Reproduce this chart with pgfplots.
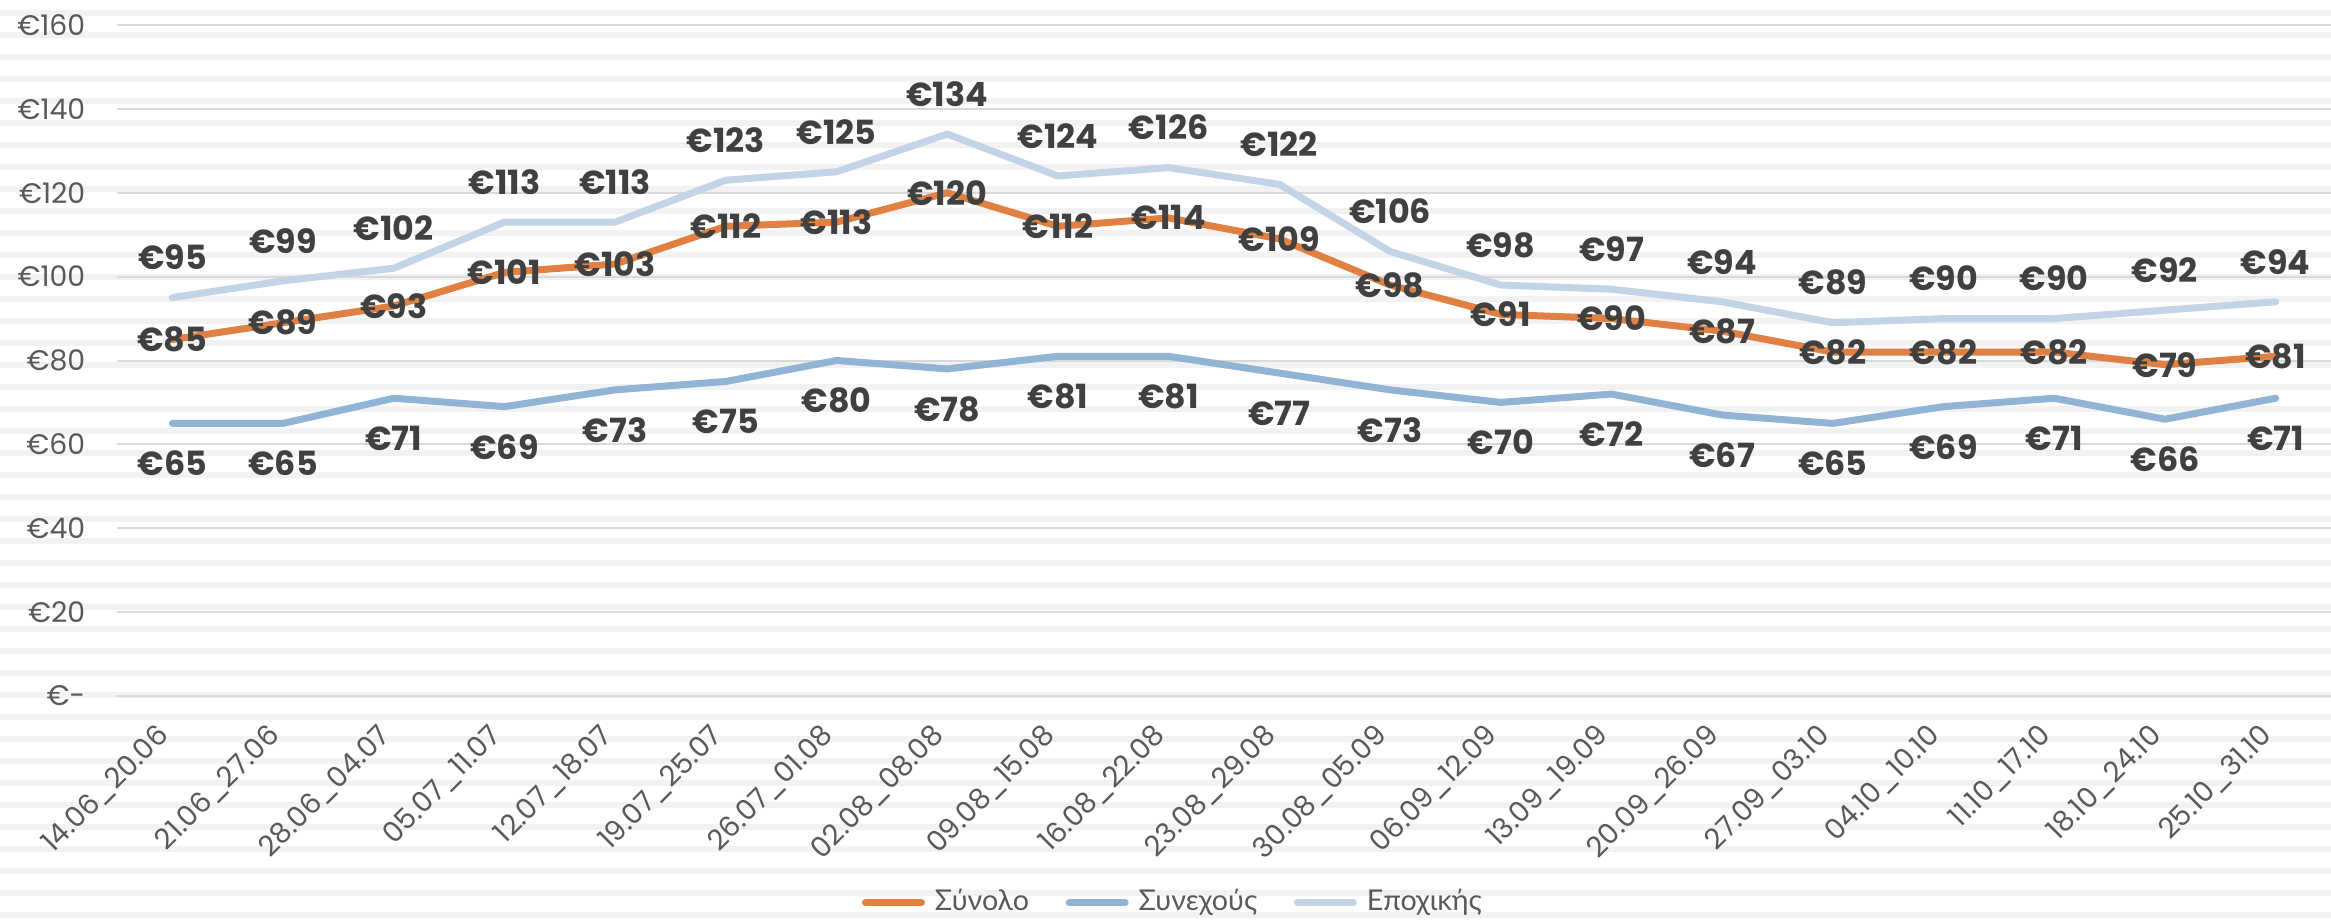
\documentclass[border=0pt]{standalone}
\usepackage{fontspec}
\setmainfont{Poppins}
\newfontfamily\legfont{Lato}
\usepackage{pgfplots}
\pgfplotsset{compat=1.18}
\definecolor{cOrange}{RGB}{224,128,66}
\definecolor{cBlue}{RGB}{145,180,212}
\definecolor{cLight}{RGB}{194,212,230}
\definecolor{stripe}{RGB}{242,242,242}
\definecolor{gridc}{RGB}{217,217,217}
\definecolor{lbl}{RGB}{64,64,64}
\definecolor{tickc}{RGB}{89,89,89}
\begin{document}
\begin{tikzpicture}[x=0.3pt,y=0.3pt]
\foreach \k in {0,...,41} { \fill[stripe] (0,{921-16-22*\k}) rectangle (2331,{921-10-22*\k}); }
\begin{axis}[
  at={(35.1pt,67.5pt)}, anchor=south west,
  scale only axis, width=664.2pt, height=201.3pt,
  xmin=-0.5, xmax=19.5, ymin=0, ymax=160,
  axis line style={draw=none}, tick style={draw=none},
  ymajorgrids, grid style={gridc, line width=0.6pt},
  ytick={0,20,...,160},
  yticklabels={€-,€20,€40,€60,€80,€100,€120,€140,€160},
  yticklabel style={font=\fontsize{8.5}{10}\selectfont, text=tickc, anchor=east, xshift=-6pt},
  xtick={0,...,19},
  xticklabels={14.06\_20.06,21.06\_27.06,28.06\_04.07,05.07\_11.07,12.07\_18.07,19.07\_25.07,26.07\_01.08,02.08\_08.08,09.08\_15.08,16.08\_22.08,23.08\_29.08,30.08\_05.09,06.09\_12.09,13.09\_19.09,20.09\_26.09,27.09\_03.10,04.10\_10.10,11.10\_17.10,18.10\_24.10,25.10\_31.10},
  xticklabel style={font=\fontsize{8.5}{10}\selectfont, text=tickc, yshift=-8pt, rotate=45, anchor=east},
  /pgf/number format/assume math mode=true,
  /pgf/number format/precision=0,
  nodes near coords={€\pgfmathprintnumber{\pgfplotspointmeta}},
  every node near coord/.append style={font=\fontsize{10}{12}\selectfont\bfseries, text=lbl},
  legend style={at={(0.478,-0.308)}, anchor=center, draw=none, fill=none,
    font=\fontsize{8.6}{10}\selectfont\legfont, text=tickc,
    legend columns=3, /tikz/every even column/.append style={column sep=9pt},
    legend cell align=left, inner sep=0pt,
    /tikz/every odd column/.append style={column sep=1pt}},
  legend image code/.code={\draw[#1, line width=2.1pt, line cap=round] (0pt,0pt) -- (16.8pt,0pt);},
  every axis plot/.append style={line width=2.1pt, line join=round, line cap=round, mark=none},
]
\addplot[cOrange, nodes near coords align={anchor=center}] coordinates {
(0,85)(1,89)(2,93)(3,101)(4,103)(5,112)(6,113)(7,120)(8,112)(9,114)(10,109)(11,98)(12,91)(13,90)(14,87)(15,82)(16,82)(17,82)(18,79)(19,81)};
\addlegendentry{Σύνολο}
\addplot[cBlue, nodes near coords align={anchor=center, yshift=-12pt}] coordinates {
(0,65)(1,65)(2,71)(3,69)(4,73)(5,75)(6,80)(7,78)(8,81)(9,81)(10,77)(11,73)(12,70)(13,72)(14,67)(15,65)(16,69)(17,71)(18,66)(19,71)};
\addlegendentry{Συνεχούς}
\addplot[cLight, nodes near coords align={anchor=center, yshift=12pt}] coordinates {
(0,95)(1,99)(2,102)(3,113)(4,113)(5,123)(6,125)(7,134)(8,124)(9,126)(10,122)(11,106)(12,98)(13,97)(14,94)(15,89)(16,90)(17,90)(18,92)(19,94)};
\addlegendentry{Εποχικής}
\end{axis}
\pgfresetboundingbox
\path (0,0) rectangle (2331,921);
\end{tikzpicture}
\end{document}
